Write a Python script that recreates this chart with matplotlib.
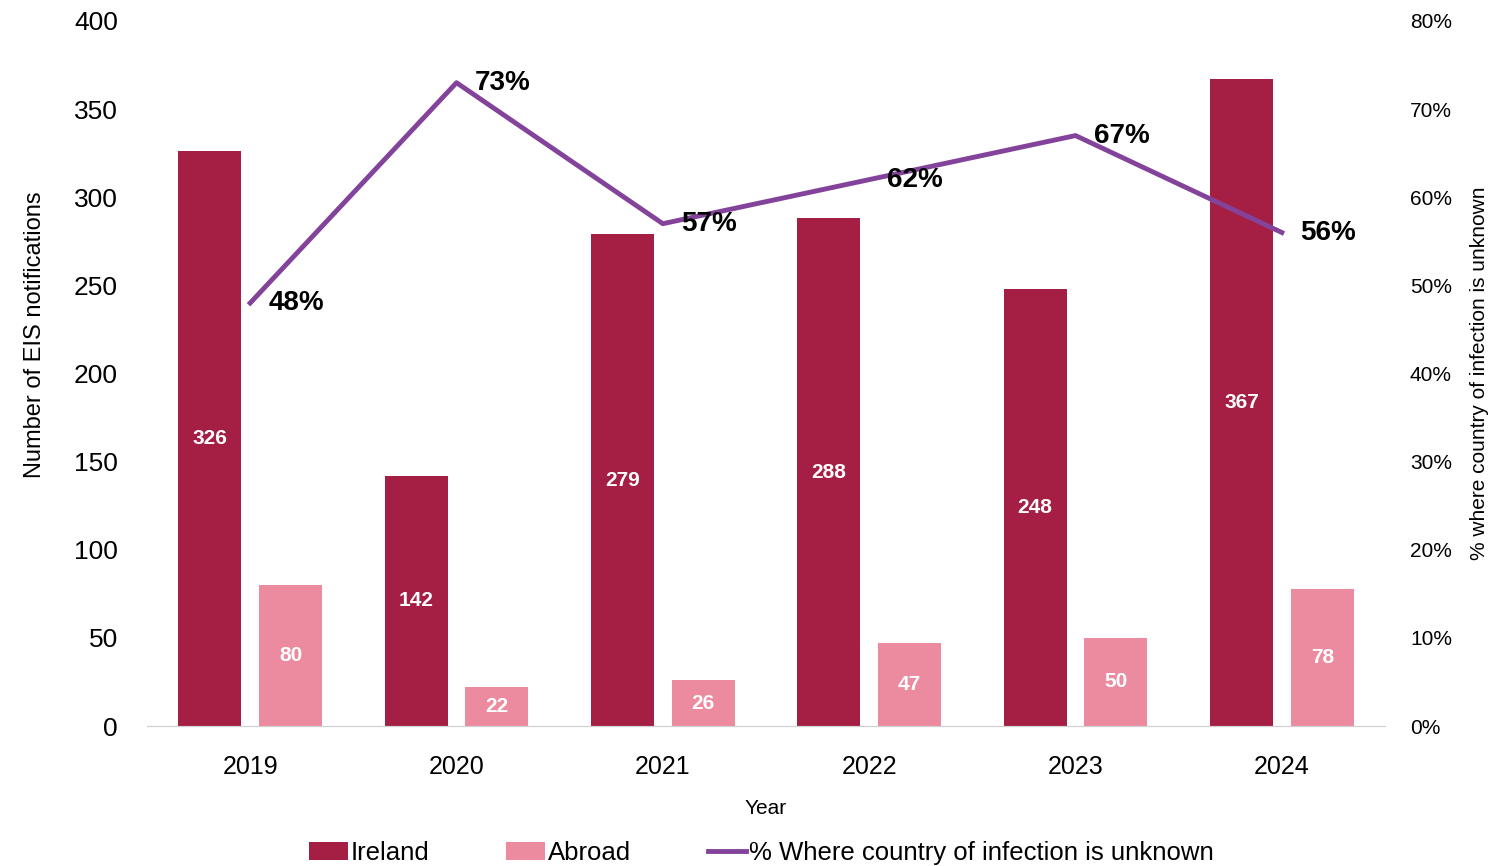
import numpy as np
import matplotlib.pyplot as plt
from matplotlib.ticker import PercentFormatter

years = ["2019", "2020", "2021", "2022", "2023", "2024"]
ireland = [326, 142, 279, 288, 248, 367]
abroad = [80, 22, 26, 47, 50, 78]
pct_unknown = [48, 73, 57, 62, 67, 56]

c_ire = "#A51E44"
c_abr = "#EC8BA0"
c_line = "#84439A"

plt.rcParams["font.family"] = ["Liberation Sans", "DejaVu Sans"]

fig = plt.figure(figsize=(15.08, 8.66), dpi=100)
ax = fig.add_axes([147/1508, 1 - 726/866, 1238/1508, 705/866])
ax2 = ax.twinx()

x = np.arange(len(years))
w = 0.305
off = 0.196
b1 = ax.bar(x - off, ireland, w, color=c_ire, label="Ireland")
b2 = ax.bar(x + off, abroad, w, color=c_abr, label="Abroad")
ax.bar_label(b1, label_type="center", color="white", fontweight="bold", fontsize=15)
ax.bar_label(b2, label_type="center", color="white", fontweight="bold", fontsize=15)

ln, = ax2.plot(x, pct_unknown, color=c_line, lw=3.5,
               label="% Where country of infection is unknown")
for xi, p in zip(x, pct_unknown):
    ax2.annotate(f"{p}%", (xi, p), xytext=(13, 0), textcoords="offset points",
                 ha="left", va="center", fontsize=20, fontweight="bold")

ax.set_xlim(-0.5, 5.5)
ax.set_ylim(0, 400)
ax.set_yticks(range(0, 401, 50))
ax2.set_ylim(0, 80)
ax2.set_yticks(range(0, 81, 10))
ax2.yaxis.set_major_formatter(PercentFormatter(decimals=0))
ax.set_xticks(x, years)

for a in (ax, ax2):
    for s in ("top", "left", "right"):
        a.spines[s].set_visible(False)
    a.spines["bottom"].set_color("#d0d0d0")
    a.tick_params(length=0)
ax.tick_params(axis="y", labelsize=19, pad=21)
ax.tick_params(axis="x", labelsize=18, pad=21)
ax2.tick_params(axis="y", labelsize=15, pad=18)

ax.set_xlabel("Year", fontsize=15, labelpad=14)
ax.set_ylabel("Number of EIS notifications", fontsize=17, labelpad=20, y=0.555)
ax2.set_ylabel("% where country of infection is unknown", fontsize=15, labelpad=13)

fig.legend(handles=[b1, b2, ln], loc="lower center", bbox_to_anchor=(0.505, -0.025),
           ncol=3, frameon=False, prop={"size": 18.5},
           handlelength=1.5, handletextpad=0.1, columnspacing=3)

fig.savefig("out.png", dpi=100)
